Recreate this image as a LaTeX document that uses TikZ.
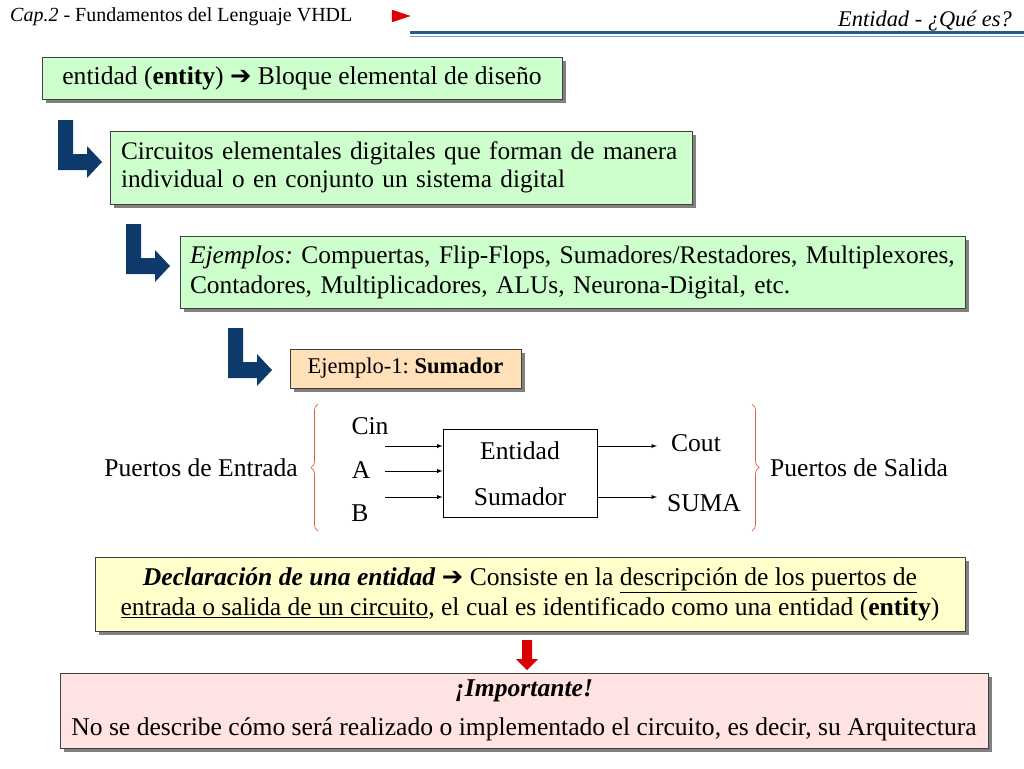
\documentclass[tikz,border=0pt]{standalone}
\usepackage{fontspec}
\setmainfont{Liberation Serif}
\newfontfamily\symfont{DejaVu Sans}
\usetikzlibrary{shadows,decorations.pathreplacing,calc}
\definecolor{boxgreen}{HTML}{CCFFCC}
\definecolor{boxpeach}{HTML}{FFE0B8}
\definecolor{boxyellow}{HTML}{FFFFCC}
\definecolor{boxpink}{HTML}{FFE2E2}
\definecolor{darkblue}{HTML}{0D3A6B}
\definecolor{lineblue}{HTML}{1F5F8F}
\definecolor{lightline}{HTML}{6FA8D0}
\definecolor{bracered}{HTML}{E0603A}
\newcommand{\rarr}{{\symfont\bfseries ➔}}
\newcommand{\myul}[1]{\underline{#1}}
\frenchspacing
\tikzset{
  panel/.style={draw=black!75, line width=0.9pt, inner sep=0pt, align=left,
    drop shadow={shadow xshift=4pt, shadow yshift=-4pt, fill=black!50, opacity=1}},
  lbl/.style={inner sep=0pt, font=\fontsize{25.6}{30}\selectfont},
  wire/.style={-latex, line width=0.9pt},
  bracestyle/.style={draw=bracered, line width=0.7pt, decorate, decoration={brace, amplitude=7pt}},
  larrow/.style={fill=darkblue, draw=none},
}
\newcommand{\Larrow}[2]{%
  \fill[larrow, shift={(#1,#2)}] (0,0) -- (15,0) -- (15,34) -- (29,34) -- (29,26) -- (44,42) -- (29,58) -- (29,50) -- (0,50) -- cycle;}
\begin{document}
\begin{tikzpicture}[x=1pt,y=-1pt]
\useasboundingbox (0,0) rectangle (1024,768);
% header
\node[anchor=base west, inner sep=0pt, font=\fontsize{20}{24}\selectfont] (hl) at (10,22) {\textit{Cap.2} - Fundamentos del Lenguaje VHDL};
\node[anchor=base east, inner sep=0pt, font=\fontsize{22.4}{26}\selectfont\itshape] (hr) at (1012,27) {Entidad - ¿Qué es?};
\fill[red!90!black, draw=red!60!black, line width=0.3pt] (392,10) -- (410,16) -- (392,22) -- cycle;
\draw[lineblue, line width=3pt] (410,32.5) -- (1024,32.5);
\draw[lightline, line width=1.2pt] (410,36.5) -- (1024,36.5);

% box 1
\node[panel, fill=boxgreen, minimum width=520, minimum height=42, align=center, font=\fontsize{25.6}{30}\selectfont] (b1) at (302,78)
  {entidad (\textbf{entity}) \rarr\ Bloque elemental de diseño};
\Larrow{58}{120}
% box 2
\node[panel, fill=boxgreen, minimum width=582, minimum height=73, text width=560, font=\fontsize{25.3}{28}\selectfont] (b2) at (401,167.5)
  {Circuitos elementales digitales que forman de manera\\individual o en conjunto un sistema digital};
\Larrow{126}{224}
% box 3
\node[panel, fill=boxgreen, minimum width=785, minimum height=72, text width=765, font=\fontsize{25.4}{30}\selectfont] (b3) at (572.5,272)
  {\textit{Ejemplos:} Compuertas, Flip-Flops, Sumadores/Restadores, Multiplexores,\\Contadores, Multiplicadores, ALUs, Neurona-Digital, etc.};
\Larrow{228}{328}
% box 4
\node[panel, fill=boxpeach, minimum width=231, minimum height=39, align=center, font=\fontsize{22.5}{26}\selectfont] (b4) at (405.5,368.5)
  {Ejemplo-1: \textbf{Sumador}};

% entity block
\node[draw, line width=0.9pt, minimum width=154, minimum height=88, inner sep=0pt] (ent) at (520,473) {};
\node[lbl] (entA) at (520,451) {Entidad};
\node[lbl] (entB) at (520,497) {Sumador};
\coordinate (iCin) at (385,446);
\coordinate (iA) at (385,471);
\coordinate (iB) at (385,497);
\draw[wire] (iCin) -- (iCin -| ent.west);
\draw[wire] (iA) -- (iA -| ent.west);
\draw[wire] (iB) -- (iB -| ent.west);
\coordinate (oCout) at (657,446);
\coordinate (oSum) at (657,497);
\draw[wire] (oCout -| ent.east) -- (oCout);
\draw[wire] (oSum -| ent.east) -- (oSum);
\node[lbl] (lCin) at (370,426) {Cin};
\node[lbl] (lA) at (361,470) {A};
\node[lbl] (lB) at (360,513) {B};
\node[lbl] (lCout) at (696,443) {Cout};
\node[lbl] (lSum) at (704,503) {SUMA};
\coordinate (brLt) at (318,404);
\coordinate (brLb) at (318,531);
\draw[bracestyle] (brLb) -- (brLt);
\coordinate (brRt) at (752,404);
\coordinate (brRb) at (752,531);
\draw[bracestyle] (brRt) -- (brRb);
\node[lbl, anchor=east] (pin) at (298,468) {Puertos de Entrada};
\node[lbl, anchor=west] (pout) at (770,468) {Puertos de Salida};

% box 5
\node[panel, fill=boxyellow, minimum width=870, minimum height=74, align=center, font=\fontsize{25.6}{30}\selectfont] (b5) at (530,594)
  {\textbf{\textit{Declaración de una entidad}} \rarr\ Consiste en la \myul{descripción de los puertos de}\\\myul{entrada o salida de un circuito}, el cual es identificado como una entidad (\textbf{entity})};
% red arrow
\fill[red!85!black] (522,640) -- (532,640) -- (532,659) -- (538,659) -- (527,670) -- (516,659) -- (522,659) -- cycle;
% box 6
\node[panel, fill=boxpink, minimum width=928, minimum height=75, align=center, font=\fontsize{25.6}{39}\selectfont] (b6) at (524,710.5)
  {\textbf{\textit{¡Importante!}}\\No se describe cómo será realizado o implementado el circuito, es decir, su Arquitectura};
\end{tikzpicture}
\end{document}
